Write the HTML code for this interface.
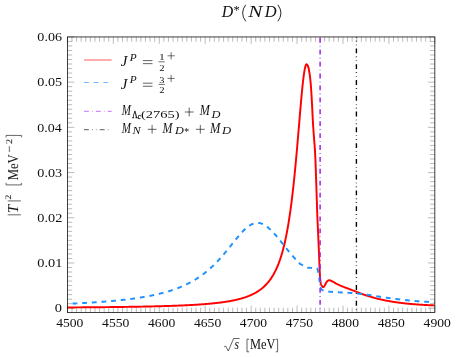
<!DOCTYPE html>
<html><head><meta charset="utf-8"><style>
html,body{margin:0;padding:0;background:#fff;}
svg{display:block;font-family:"Liberation Serif",serif;}
</style></head><body>
<svg width="456" height="357" viewBox="0 0 456 357">
<rect width="456" height="357" fill="#fff"/>
<path d="M71.99,312.5v-4.80M71.99,36.95v4.80M76.59,312.5v-4.80M76.59,36.95v4.80M81.18,312.5v-4.80M81.18,36.95v4.80M85.77,312.5v-4.80M85.77,36.95v4.80M90.37,312.5v-4.80M90.37,36.95v4.80M94.96,312.5v-4.80M94.96,36.95v4.80M99.55,312.5v-4.80M99.55,36.95v4.80M104.15,312.5v-4.80M104.15,36.95v4.80M108.74,312.5v-4.80M108.74,36.95v4.80M117.92,312.5v-4.80M117.92,36.95v4.80M122.52,312.5v-4.80M122.52,36.95v4.80M127.11,312.5v-4.80M127.11,36.95v4.80M131.70,312.5v-4.80M131.70,36.95v4.80M136.30,312.5v-4.80M136.30,36.95v4.80M140.89,312.5v-4.80M140.89,36.95v4.80M145.48,312.5v-4.80M145.48,36.95v4.80M150.08,312.5v-4.80M150.08,36.95v4.80M154.67,312.5v-4.80M154.67,36.95v4.80M163.86,312.5v-4.80M163.86,36.95v4.80M168.45,312.5v-4.80M168.45,36.95v4.80M173.04,312.5v-4.80M173.04,36.95v4.80M177.64,312.5v-4.80M177.64,36.95v4.80M182.23,312.5v-4.80M182.23,36.95v4.80M186.82,312.5v-4.80M186.82,36.95v4.80M191.41,312.5v-4.80M191.41,36.95v4.80M196.01,312.5v-4.80M196.01,36.95v4.80M200.60,312.5v-4.80M200.60,36.95v4.80M209.79,312.5v-4.80M209.79,36.95v4.80M214.38,312.5v-4.80M214.38,36.95v4.80M218.97,312.5v-4.80M218.97,36.95v4.80M223.57,312.5v-4.80M223.57,36.95v4.80M228.16,312.5v-4.80M228.16,36.95v4.80M232.75,312.5v-4.80M232.75,36.95v4.80M237.35,312.5v-4.80M237.35,36.95v4.80M241.94,312.5v-4.80M241.94,36.95v4.80M246.53,312.5v-4.80M246.53,36.95v4.80M255.72,312.5v-4.80M255.72,36.95v4.80M260.31,312.5v-4.80M260.31,36.95v4.80M264.90,312.5v-4.80M264.90,36.95v4.80M269.50,312.5v-4.80M269.50,36.95v4.80M274.09,312.5v-4.80M274.09,36.95v4.80M278.68,312.5v-4.80M278.68,36.95v4.80M283.28,312.5v-4.80M283.28,36.95v4.80M287.87,312.5v-4.80M287.87,36.95v4.80M292.46,312.5v-4.80M292.46,36.95v4.80M301.65,312.5v-4.80M301.65,36.95v4.80M306.24,312.5v-4.80M306.24,36.95v4.80M310.84,312.5v-4.80M310.84,36.95v4.80M315.43,312.5v-4.80M315.43,36.95v4.80M320.02,312.5v-4.80M320.02,36.95v4.80M324.62,312.5v-4.80M324.62,36.95v4.80M329.21,312.5v-4.80M329.21,36.95v4.80M333.80,312.5v-4.80M333.80,36.95v4.80M338.39,312.5v-4.80M338.39,36.95v4.80M347.58,312.5v-4.80M347.58,36.95v4.80M352.17,312.5v-4.80M352.17,36.95v4.80M356.77,312.5v-4.80M356.77,36.95v4.80M361.36,312.5v-4.80M361.36,36.95v4.80M365.95,312.5v-4.80M365.95,36.95v4.80M370.55,312.5v-4.80M370.55,36.95v4.80M375.14,312.5v-4.80M375.14,36.95v4.80M379.73,312.5v-4.80M379.73,36.95v4.80M384.33,312.5v-4.80M384.33,36.95v4.80M393.51,312.5v-4.80M393.51,36.95v4.80M398.11,312.5v-4.80M398.11,36.95v4.80M402.70,312.5v-4.80M402.70,36.95v4.80M407.29,312.5v-4.80M407.29,36.95v4.80M411.88,312.5v-4.80M411.88,36.95v4.80M416.48,312.5v-4.80M416.48,36.95v4.80M421.07,312.5v-4.80M421.07,36.95v4.80M425.66,312.5v-4.80M425.66,36.95v4.80M430.26,312.5v-4.80M430.26,36.95v4.80M67.4,303.68h4.80M434.85,303.68h-4.80M67.4,299.16h4.80M434.85,299.16h-4.80M67.4,294.63h4.80M434.85,294.63h-4.80M67.4,290.11h4.80M434.85,290.11h-4.80M67.4,285.59h4.80M434.85,285.59h-4.80M67.4,281.07h4.80M434.85,281.07h-4.80M67.4,276.55h4.80M434.85,276.55h-4.80M67.4,272.03h4.80M434.85,272.03h-4.80M67.4,267.50h4.80M434.85,267.50h-4.80M67.4,258.46h4.80M434.85,258.46h-4.80M67.4,253.94h4.80M434.85,253.94h-4.80M67.4,249.42h4.80M434.85,249.42h-4.80M67.4,244.90h4.80M434.85,244.90h-4.80M67.4,240.38h4.80M434.85,240.38h-4.80M67.4,235.85h4.80M434.85,235.85h-4.80M67.4,231.33h4.80M434.85,231.33h-4.80M67.4,226.81h4.80M434.85,226.81h-4.80M67.4,222.29h4.80M434.85,222.29h-4.80M67.4,213.24h4.80M434.85,213.24h-4.80M67.4,208.72h4.80M434.85,208.72h-4.80M67.4,204.20h4.80M434.85,204.20h-4.80M67.4,199.68h4.80M434.85,199.68h-4.80M67.4,195.16h4.80M434.85,195.16h-4.80M67.4,190.64h4.80M434.85,190.64h-4.80M67.4,186.11h4.80M434.85,186.11h-4.80M67.4,181.59h4.80M434.85,181.59h-4.80M67.4,177.07h4.80M434.85,177.07h-4.80M67.4,168.03h4.80M434.85,168.03h-4.80M67.4,163.51h4.80M434.85,163.51h-4.80M67.4,158.98h4.80M434.85,158.98h-4.80M67.4,154.46h4.80M434.85,154.46h-4.80M67.4,149.94h4.80M434.85,149.94h-4.80M67.4,145.42h4.80M434.85,145.42h-4.80M67.4,140.90h4.80M434.85,140.90h-4.80M67.4,136.38h4.80M434.85,136.38h-4.80M67.4,131.85h4.80M434.85,131.85h-4.80M67.4,122.81h4.80M434.85,122.81h-4.80M67.4,118.29h4.80M434.85,118.29h-4.80M67.4,113.77h4.80M434.85,113.77h-4.80M67.4,109.25h4.80M434.85,109.25h-4.80M67.4,104.72h4.80M434.85,104.72h-4.80M67.4,100.20h4.80M434.85,100.20h-4.80M67.4,95.68h4.80M434.85,95.68h-4.80M67.4,91.16h4.80M434.85,91.16h-4.80M67.4,86.64h4.80M434.85,86.64h-4.80M67.4,77.59h4.80M434.85,77.59h-4.80M67.4,73.07h4.80M434.85,73.07h-4.80M67.4,68.55h4.80M434.85,68.55h-4.80M67.4,64.03h4.80M434.85,64.03h-4.80M67.4,59.51h4.80M434.85,59.51h-4.80M67.4,54.99h4.80M434.85,54.99h-4.80M67.4,50.46h4.80M434.85,50.46h-4.80M67.4,45.94h4.80M434.85,45.94h-4.80M67.4,41.42h4.80M434.85,41.42h-4.80" stroke="#777" stroke-width="0.5" fill="none"/>
<path d="M67.40,312.5v-6.90M67.40,36.95v6.90M113.33,312.5v-6.90M113.33,36.95v6.90M159.26,312.5v-6.90M159.26,36.95v6.90M205.19,312.5v-6.90M205.19,36.95v6.90M251.13,312.5v-6.90M251.13,36.95v6.90M297.06,312.5v-6.90M297.06,36.95v6.90M342.99,312.5v-6.90M342.99,36.95v6.90M388.92,312.5v-6.90M388.92,36.95v6.90M434.85,312.5v-6.90M434.85,36.95v6.90M67.4,308.20h6.90M434.85,308.20h-6.90M67.4,262.98h6.90M434.85,262.98h-6.90M67.4,217.77h6.90M434.85,217.77h-6.90M67.4,172.55h6.90M434.85,172.55h-6.90M67.4,127.33h6.90M434.85,127.33h-6.90M67.4,82.12h6.90M434.85,82.12h-6.90M67.4,36.90h6.90M434.85,36.90h-6.90" stroke="#777" stroke-width="0.5" fill="none"/>
<clipPath id="c"><rect x="67.4" y="36.95" width="367.45000000000005" height="275.55"/></clipPath>
<g clip-path="url(#c)" fill="none">
<path d="M67.40,307.45 L67.90,307.45 L68.40,307.44 L68.90,307.44 L69.40,307.44 L69.90,307.43 L70.40,307.43 L70.90,307.43 L71.40,307.42 L71.90,307.42 L72.40,307.42 L72.90,307.41 L73.40,307.41 L73.90,307.41 L74.40,307.40 L74.90,307.40 L75.40,307.40 L75.90,307.39 L76.40,307.39 L76.90,307.39 L77.40,307.38 L77.90,307.38 L78.40,307.37 L78.90,307.37 L79.40,307.37 L79.90,307.36 L80.40,307.36 L80.90,307.36 L81.40,307.35 L81.90,307.35 L82.40,307.34 L82.90,307.34 L83.40,307.34 L83.90,307.33 L84.40,307.33 L84.90,307.33 L85.40,307.32 L85.90,307.32 L86.40,307.31 L86.90,307.31 L87.40,307.31 L87.90,307.30 L88.40,307.30 L88.90,307.29 L89.40,307.29 L89.90,307.28 L90.40,307.28 L90.90,307.28 L91.40,307.27 L91.90,307.27 L92.40,307.26 L92.90,307.26 L93.40,307.25 L93.90,307.25 L94.40,307.25 L94.90,307.24 L95.40,307.24 L95.90,307.23 L96.40,307.23 L96.90,307.22 L97.40,307.22 L97.90,307.21 L98.40,307.21 L98.90,307.20 L99.40,307.20 L99.90,307.19 L100.40,307.19 L100.90,307.18 L101.40,307.18 L101.90,307.17 L102.40,307.17 L102.90,307.16 L103.40,307.16 L103.90,307.15 L104.40,307.15 L104.90,307.14 L105.40,307.14 L105.90,307.13 L106.40,307.13 L106.90,307.12 L107.40,307.12 L107.90,307.11 L108.40,307.11 L108.90,307.10 L109.40,307.10 L109.90,307.09 L110.40,307.08 L110.90,307.08 L111.40,307.07 L111.90,307.07 L112.40,307.06 L112.90,307.06 L113.40,307.05 L113.90,307.04 L114.40,307.04 L114.90,307.03 L115.40,307.03 L115.90,307.02 L116.40,307.01 L116.90,307.01 L117.40,307.00 L117.90,306.99 L118.40,306.99 L118.90,306.98 L119.40,306.98 L119.90,306.97 L120.40,306.96 L120.90,306.96 L121.40,306.95 L121.90,306.94 L122.40,306.94 L122.90,306.93 L123.40,306.92 L123.90,306.91 L124.40,306.91 L124.90,306.90 L125.40,306.89 L125.90,306.89 L126.40,306.88 L126.90,306.87 L127.40,306.86 L127.90,306.86 L128.40,306.85 L128.90,306.84 L129.40,306.83 L129.90,306.83 L130.40,306.82 L130.90,306.81 L131.40,306.80 L131.90,306.79 L132.40,306.79 L132.90,306.78 L133.40,306.77 L133.90,306.76 L134.40,306.75 L134.90,306.75 L135.40,306.74 L135.90,306.73 L136.40,306.72 L136.90,306.71 L137.40,306.70 L137.90,306.69 L138.40,306.69 L138.90,306.68 L139.40,306.67 L139.90,306.66 L140.40,306.65 L140.90,306.64 L141.40,306.63 L141.90,306.62 L142.40,306.61 L142.90,306.60 L143.40,306.59 L143.90,306.58 L144.40,306.57 L144.90,306.56 L145.40,306.55 L145.90,306.54 L146.40,306.53 L146.90,306.52 L147.40,306.51 L147.90,306.50 L148.40,306.49 L148.90,306.48 L149.40,306.47 L149.90,306.46 L150.40,306.45 L150.90,306.43 L151.40,306.42 L151.90,306.41 L152.40,306.40 L152.90,306.39 L153.40,306.38 L153.90,306.36 L154.40,306.35 L154.90,306.34 L155.40,306.33 L155.90,306.32 L156.40,306.30 L156.90,306.29 L157.40,306.28 L157.90,306.27 L158.40,306.25 L158.90,306.24 L159.40,306.23 L159.90,306.21 L160.40,306.20 L160.90,306.19 L161.40,306.17 L161.90,306.16 L162.40,306.14 L162.90,306.13 L163.40,306.12 L163.90,306.10 L164.40,306.09 L164.90,306.07 L165.40,306.06 L165.90,306.04 L166.40,306.03 L166.90,306.01 L167.40,305.99 L167.90,305.98 L168.40,305.96 L168.90,305.95 L169.40,305.93 L169.90,305.91 L170.40,305.90 L170.90,305.88 L171.40,305.86 L171.90,305.85 L172.40,305.83 L172.90,305.81 L173.40,305.79 L173.90,305.78 L174.40,305.76 L174.90,305.74 L175.40,305.72 L175.90,305.70 L176.40,305.68 L176.90,305.66 L177.40,305.64 L177.90,305.62 L178.40,305.60 L178.90,305.58 L179.40,305.56 L179.90,305.54 L180.40,305.52 L180.90,305.50 L181.40,305.48 L181.90,305.46 L182.40,305.44 L182.90,305.41 L183.40,305.39 L183.90,305.37 L184.40,305.35 L184.90,305.32 L185.40,305.30 L185.90,305.28 L186.40,305.25 L186.90,305.23 L187.40,305.20 L187.90,305.18 L188.40,305.15 L188.90,305.13 L189.40,305.10 L189.90,305.08 L190.40,305.05 L190.90,305.02 L191.40,304.99 L191.90,304.97 L192.40,304.94 L192.90,304.91 L193.40,304.88 L193.90,304.85 L194.40,304.82 L194.90,304.79 L195.40,304.76 L195.90,304.73 L196.40,304.70 L196.90,304.67 L197.40,304.64 L197.90,304.61 L198.40,304.57 L198.90,304.54 L199.40,304.51 L199.90,304.47 L200.40,304.44 L200.90,304.40 L201.40,304.37 L201.90,304.33 L202.40,304.29 L202.90,304.26 L203.40,304.22 L203.90,304.18 L204.40,304.14 L204.90,304.10 L205.40,304.06 L205.90,304.02 L206.40,303.98 L206.90,303.94 L207.40,303.90 L207.90,303.86 L208.40,303.81 L208.90,303.77 L209.40,303.72 L209.90,303.68 L210.40,303.63 L210.90,303.58 L211.40,303.54 L211.90,303.49 L212.40,303.44 L212.90,303.39 L213.40,303.34 L213.90,303.29 L214.40,303.23 L214.90,303.18 L215.40,303.13 L215.90,303.07 L216.40,303.02 L216.90,302.96 L217.40,302.90 L217.90,302.84 L218.40,302.78 L218.90,302.72 L219.40,302.66 L219.90,302.60 L220.40,302.54 L220.90,302.47 L221.40,302.41 L221.90,302.34 L222.40,302.27 L222.90,302.20 L223.40,302.13 L223.90,302.06 L224.40,301.99 L224.90,301.91 L225.40,301.84 L225.90,301.76 L226.40,301.68 L226.90,301.60 L227.40,301.52 L227.90,301.44 L228.40,301.35 L228.90,301.27 L229.40,301.18 L229.90,301.09 L230.40,301.00 L230.90,300.91 L231.40,300.82 L231.90,300.72 L232.40,300.62 L232.90,300.52 L233.40,300.42 L233.90,300.32 L234.40,300.21 L234.90,300.10 L235.40,299.99 L235.90,299.88 L236.40,299.76 L236.90,299.65 L237.40,299.53 L237.90,299.41 L238.40,299.28 L238.90,299.15 L239.40,299.03 L239.90,298.89 L240.40,298.76 L240.90,298.62 L241.40,298.48 L241.90,298.33 L242.40,298.18 L242.90,298.03 L243.40,297.88 L243.90,297.72 L244.40,297.56 L244.90,297.39 L245.40,297.23 L245.90,297.05 L246.40,296.88 L246.90,296.69 L247.40,296.51 L247.90,296.32 L248.40,296.12 L248.90,295.93 L249.40,295.72 L249.90,295.51 L250.40,295.30 L250.90,295.08 L251.40,294.85 L251.90,294.62 L252.40,294.38 L252.90,294.14 L253.40,293.89 L253.90,293.64 L254.40,293.37 L254.90,293.10 L255.40,292.83 L255.90,292.54 L256.40,292.25 L256.90,291.95 L257.40,291.64 L257.90,291.32 L258.40,291.00 L258.90,290.66 L259.40,290.31 L259.90,289.96 L260.40,289.59 L260.90,289.22 L261.40,288.83 L261.90,288.43 L262.40,288.02 L262.90,287.59 L263.40,287.16 L263.90,286.70 L264.40,286.24 L264.90,285.76 L265.40,285.26 L265.90,284.75 L266.40,284.22 L266.90,283.68 L267.40,283.12 L267.90,282.53 L268.40,281.93 L268.90,281.31 L269.40,280.67 L269.90,280.00 L270.40,279.31 L270.90,278.60 L271.40,277.86 L271.90,277.09 L272.40,276.30 L272.90,275.47 L273.40,274.62 L273.90,273.73 L274.40,272.81 L274.90,271.86 L275.40,270.87 L275.90,269.84 L276.40,268.77 L276.90,267.65 L277.40,266.50 L277.90,265.29 L278.40,264.04 L278.90,262.74 L279.40,261.38 L279.90,259.96 L280.40,258.49 L280.90,256.95 L281.40,255.35 L281.90,253.68 L282.40,251.93 L282.90,250.11 L283.40,248.21 L283.90,246.23 L284.40,244.15 L284.90,241.99 L285.40,239.73 L285.90,237.36 L286.40,234.89 L286.90,232.31 L287.40,229.60 L287.90,226.78 L288.40,223.83 L288.90,220.75 L289.40,217.52 L289.90,214.16 L290.40,210.64 L290.90,206.97 L291.40,203.14 L291.90,199.14 L292.40,194.98 L292.90,190.65 L293.40,186.15 L293.90,181.48 L294.40,176.63 L294.90,171.61 L295.40,166.43 L295.90,161.10 L296.40,155.61 L296.90,150.00 L297.40,144.26 L297.90,138.43 L298.40,132.52 L298.90,126.57 L299.40,120.61 L299.90,114.69 L300.40,108.83 L300.90,103.10 L301.40,97.55 L301.90,92.23 L302.40,87.20 L302.90,82.52 L303.40,78.26 L303.90,74.46 L304.40,71.19 L304.90,68.49 L305.40,66.41 L305.90,64.98 L306.40,64.22 L307.06,64.57 L307.39,65.04 L307.68,65.53 L307.92,66.04 L308.11,66.57 L308.29,67.11 L308.44,67.66 L308.59,68.22 L308.72,68.79 L308.84,69.36 L308.95,69.92 L309.05,70.48 L309.15,71.05 L309.25,71.61 L309.34,72.17 L309.43,72.74 L309.52,73.30 L309.60,73.87 L309.68,74.44 L309.76,75.01 L309.84,75.58 L309.91,76.15 L309.98,76.72 L310.05,77.29 L310.12,77.86 L310.18,78.43 L310.25,79.00 L310.31,79.57 L310.37,80.14 L310.43,80.72 L310.48,81.29 L310.54,81.86 L310.59,82.43 L310.65,83.00 L310.70,83.57 L310.75,84.14 L310.80,84.71 L310.84,85.28 L310.89,85.85 L310.93,86.43 L310.98,87.00 L311.02,87.57 L311.06,88.14 L311.10,88.71 L311.14,89.29 L311.18,89.86 L311.21,90.43 L311.25,91.00 L311.29,91.58 L311.32,92.15 L311.36,92.72 L311.39,93.29 L311.43,93.87 L311.47,94.44 L311.50,95.01 L311.54,95.58 L311.57,96.15 L311.60,96.73 L311.64,97.30 L311.67,97.87 L311.70,98.44 L311.74,99.02 L311.77,99.59 L311.80,100.16 L311.83,100.73 L311.86,101.31 L311.89,101.88 L311.92,102.45 L311.95,103.02 L311.98,103.60 L312.01,104.17 L312.04,104.74 L312.07,105.31 L312.10,105.89 L312.13,106.46 L312.16,107.03 L312.19,107.61 L312.21,108.18 L312.24,108.75 L312.27,109.32 L312.30,109.90 L312.33,110.47 L312.36,111.04 L312.38,111.61 L312.41,112.19 L312.44,112.76 L312.47,113.33 L312.50,113.90 L312.53,114.48 L312.56,115.05 L312.59,115.62 L312.61,116.20 L312.64,116.77 L312.67,117.34 L312.70,117.91 L312.73,118.49 L312.76,119.06 L312.79,119.63 L312.83,120.20 L312.86,120.78 L312.89,121.35 L312.92,121.92 L312.95,122.49 L312.99,123.07 L313.02,123.64 L313.05,124.21 L313.09,124.78 L313.12,125.35 L313.16,125.93 L313.19,126.50 L313.23,127.07 L313.27,127.64 L313.31,128.22 L313.35,128.79 L313.39,129.36 L313.43,129.93 L313.47,130.50 L313.51,131.08 L313.55,131.65 L313.59,132.22 L313.64,132.79 L313.68,133.36 L313.72,133.93 L313.77,134.51 L313.81,135.08 L313.86,135.65 L313.90,136.22 L313.95,136.79 L313.99,137.36 L314.04,137.94 L314.08,138.51 L314.12,139.08 L314.17,139.65 L314.21,140.22 L314.26,140.80 L314.30,141.37 L314.35,141.94 L314.39,142.51 L314.43,143.08 L314.48,143.65 L314.52,144.23 L314.56,144.80 L314.60,145.37 L314.64,145.94 L314.69,146.51 L314.73,147.09 L314.76,147.66 L314.80,148.23 L314.84,148.80 L314.88,149.37 L314.92,149.95 L314.95,150.52 L314.99,151.09 L315.02,151.66 L315.05,152.23 L315.09,152.81 L315.12,153.38 L315.15,153.95 L315.18,154.52 L315.20,155.10 L315.23,155.67 L315.26,156.24 L315.29,156.81 L315.31,157.39 L315.34,157.96 L315.36,158.53 L315.39,159.10 L315.41,159.68 L315.43,160.25 L315.46,160.82 L315.48,161.40 L315.50,161.97 L315.53,162.54 L315.55,163.11 L315.57,163.69 L315.59,164.26 L315.62,164.83 L315.64,165.41 L315.66,165.98 L315.68,166.55 L315.70,167.12 L315.72,167.70 L315.74,168.27 L315.76,168.84 L315.78,169.42 L315.80,169.99 L315.82,170.56 L315.84,171.14 L315.86,171.71 L315.88,172.28 L315.90,172.86 L315.91,173.43 L315.93,174.00 L315.95,174.57 L315.97,175.15 L315.99,175.72 L316.01,176.29 L316.03,176.87 L316.05,177.44 L316.07,178.01 L316.08,178.59 L316.10,179.16 L316.12,179.73 L316.14,180.31 L316.16,180.88 L316.18,181.45 L316.20,182.03 L316.22,182.60 L316.24,183.17 L316.26,183.74 L316.28,184.32 L316.30,184.89 L316.32,185.46 L316.34,186.04 L316.36,186.61 L316.37,187.18 L316.39,187.76 L316.41,188.33 L316.43,188.90 L316.45,189.47 L316.47,190.05 L316.49,190.62 L316.51,191.19 L316.53,191.77 L316.54,192.34 L316.56,192.91 L316.58,193.49 L316.60,194.06 L316.62,194.63 L316.63,195.21 L316.65,195.78 L316.67,196.35 L316.69,196.92 L316.71,197.50 L316.73,198.07 L316.74,198.64 L316.76,199.22 L316.78,199.79 L316.80,200.36 L316.82,200.94 L316.83,201.51 L316.85,202.08 L316.87,202.66 L316.89,203.23 L316.91,203.80 L316.93,204.37 L316.94,204.95 L316.96,205.52 L316.98,206.09 L317.00,206.67 L317.02,207.24 L317.04,207.81 L317.06,208.39 L317.08,208.96 L317.10,209.53 L317.12,210.10 L317.14,210.68 L317.16,211.25 L317.18,211.82 L317.20,212.40 L317.22,212.97 L317.24,213.54 L317.27,214.12 L317.29,214.69 L317.31,215.26 L317.33,215.83 L317.36,216.41 L317.38,216.98 L317.40,217.55 L317.43,218.13 L317.45,218.70 L317.48,219.27 L317.50,219.84 L317.53,220.42 L317.55,220.99 L317.58,221.56 L317.60,222.14 L317.63,222.71 L317.66,223.28 L317.68,223.85 L317.71,224.43 L317.74,225.00 L317.76,225.57 L317.79,226.14 L317.82,226.72 L317.84,227.29 L317.87,227.86 L317.90,228.44 L317.93,229.01 L317.95,229.58 L317.98,230.15 L318.01,230.73 L318.03,231.30 L318.06,231.87 L318.09,232.44 L318.11,233.02 L318.14,233.59 L318.16,234.16 L318.19,234.74 L318.21,235.31 L318.24,235.88 L318.26,236.45 L318.29,237.03 L318.31,237.60 L318.34,238.17 L318.36,238.75 L318.39,239.32 L318.41,239.89 L318.44,240.46 L318.46,241.04 L318.49,241.61 L318.51,242.18 L318.54,242.75 L318.56,243.33 L318.59,243.90 L318.61,244.47 L318.64,245.05 L318.66,245.62 L318.68,246.19 L318.71,246.76 L318.73,247.34 L318.76,247.91 L318.78,248.48 L318.81,249.06 L318.83,249.63 L318.85,250.20 L318.88,250.77 L318.90,251.35 L318.93,251.92 L318.95,252.49 L318.98,253.07 L319.00,253.64 L319.02,254.21 L319.05,254.78 L319.07,255.36 L319.10,255.93 L319.12,256.50 L319.14,257.08 L319.17,257.65 L319.19,258.22 L319.21,258.79 L319.23,259.37 L319.25,259.94 L319.28,260.51 L319.30,261.09 L319.32,261.66 L319.34,262.23 L319.36,262.81 L319.38,263.38 L319.40,263.95 L319.42,264.53 L319.44,265.10 L319.47,265.67 L319.49,266.25 L319.51,266.82 L319.54,267.39 L319.56,267.96 L319.58,268.54 L319.61,269.11 L319.64,269.68 L319.66,270.25 L319.69,270.83 L319.72,271.40 L319.75,271.97 L319.79,272.54 L319.82,273.12 L319.85,273.69 L319.89,274.26 L319.92,274.84 L319.96,275.41 L320.00,275.99 L320.04,276.56 L320.08,277.13 L320.13,277.71 L320.18,278.28 L320.23,278.85 L320.29,279.42 L320.35,279.99 L320.42,280.55 L320.49,281.12 L320.57,281.68 L320.67,282.26 L320.79,282.85 L320.92,283.42 L321.07,283.99 L321.25,284.53 L321.45,285.05 L321.67,285.54 L322.00,286.08 L322.41,286.61 L322.86,286.99 L323.29,287.09 L323.73,286.80 L324.16,286.31 L324.52,285.84 L324.81,285.35 L325.08,284.83 L325.35,284.32 L325.61,283.81 L325.88,283.30 L326.16,282.80 L326.46,282.31 L326.78,281.83 L327.14,281.37 L327.53,280.97 L328.00,280.62 L328.52,280.40 L329.09,280.31 L329.66,280.32 L330.22,280.47 L330.76,280.66 L331.28,280.91 L331.78,281.19 L332.30,281.45 L332.81,281.70 L333.32,281.96 L333.83,282.22 L334.33,282.51 L334.82,282.80 L335.32,283.09 L335.81,283.38 L336.32,283.66 L336.82,283.92 L337.34,284.17 L337.85,284.42 L338.37,284.66 L338.90,284.90 L339.42,285.14 L339.94,285.37 L340.47,285.61 L340.99,285.83 L341.52,286.06 L342.05,286.28 L342.58,286.49 L343.11,286.71 L343.65,286.92 L344.18,287.12 L344.72,287.32 L345.26,287.53 L345.79,287.72 L346.33,287.92 L346.87,288.12 L347.41,288.31 L347.95,288.51 L348.49,288.71 L349.02,288.91 L349.56,289.11 L350.10,289.31 L350.63,289.52 L351.17,289.72 L351.70,289.93 L352.24,290.13 L352.77,290.34 L353.31,290.54 L353.84,290.75 L354.38,290.96 L354.91,291.17 L355.45,291.38 L355.98,291.59 L356.51,291.81 L357.04,292.03 L357.57,292.25 L358.10,292.47 L358.63,292.69 L359.16,292.91 L359.69,293.12 L360.23,293.32 L360.76,293.52 L361.30,293.72 L361.84,293.91 L362.38,294.10 L362.92,294.30 L363.46,294.48 L364.01,294.67 L364.55,294.86 L365.09,295.04 L365.64,295.22 L366.18,295.40 L366.73,295.57 L367.27,295.75 L367.82,295.92 L368.37,296.09 L368.92,296.26 L369.46,296.43 L370.01,296.59 L370.56,296.76 L371.11,296.92 L371.66,297.08 L372.21,297.24 L372.76,297.40 L373.31,297.56 L373.87,297.72 L374.42,297.87 L374.97,298.02 L375.53,298.17 L376.08,298.32 L376.64,298.47 L377.19,298.61 L377.75,298.75 L378.30,298.89 L378.86,299.03 L379.42,299.16 L379.98,299.29 L380.53,299.41 L381.09,299.54 L381.65,299.66 L382.21,299.78 L382.77,299.90 L383.34,300.02 L383.90,300.14 L384.46,300.25 L385.02,300.37 L385.58,300.48 L386.15,300.59 L386.71,300.69 L387.28,300.80 L387.84,300.90 L388.40,301.01 L388.97,301.11 L389.53,301.21 L390.10,301.30 L390.66,301.40 L391.23,301.50 L391.79,301.59 L392.36,301.68 L392.92,301.77 L393.49,301.86 L394.06,301.95 L394.63,302.04 L395.19,302.13 L395.76,302.21 L396.33,302.29 L396.89,302.37 L397.46,302.45 L398.03,302.53 L398.60,302.61 L399.17,302.68 L399.74,302.76 L400.30,302.83 L400.87,302.90 L401.44,302.97 L402.01,303.04 L402.58,303.10 L403.15,303.17 L403.72,303.23 L404.29,303.30 L404.86,303.36 L405.43,303.42 L406.00,303.48 L406.57,303.54 L407.14,303.60 L407.71,303.66 L408.28,303.71 L408.85,303.77 L409.42,303.82 L410.00,303.87 L410.57,303.93 L411.14,303.98 L411.71,304.03 L412.28,304.08 L412.85,304.13 L413.42,304.18 L413.99,304.22 L414.57,304.27 L415.14,304.32 L415.71,304.36 L416.28,304.40 L416.85,304.45 L417.42,304.49 L418.00,304.53 L418.57,304.57 L419.14,304.60 L419.71,304.64 L420.28,304.68 L420.86,304.71 L421.43,304.75 L422.00,304.78 L422.57,304.82 L423.14,304.85 L423.72,304.88 L424.29,304.92 L424.86,304.95 L425.43,304.98 L426.01,305.01 L426.58,305.04 L427.15,305.07 L427.72,305.10 L428.30,305.13 L428.87,305.16 L429.44,305.19 L430.02,305.22 L430.59,305.24 L431.16,305.27 L431.73,305.29 L432.31,305.31 L432.88,305.34 L433.45,305.36 L434.03,305.38 L434.60,305.40" stroke="#ff0000" stroke-width="1.95" stroke-linejoin="round"/>
<path d="M67.40,303.83 L67.90,303.80 L68.40,303.78 L68.90,303.76 L69.40,303.74 L69.90,303.71 L70.40,303.69 L70.90,303.67 L71.40,303.65 L71.90,303.62 L72.40,303.60 L72.90,303.57 L73.40,303.55 L73.90,303.53 L74.40,303.50 L74.90,303.48 L75.40,303.45 L75.90,303.43 L76.40,303.40 L76.90,303.38 L77.40,303.35 L77.90,303.33 L78.40,303.30 L78.90,303.28 L79.40,303.25 L79.90,303.22 L80.40,303.20 L80.90,303.17 L81.40,303.14 L81.90,303.12 L82.40,303.09 L82.90,303.06 L83.40,303.04 L83.90,303.01 L84.40,302.98 L84.90,302.95 L85.40,302.92 L85.90,302.89 L86.40,302.86 L86.90,302.83 L87.40,302.80 L87.90,302.77 L88.40,302.74 L88.90,302.71 L89.40,302.68 L89.90,302.65 L90.40,302.62 L90.90,302.59 L91.40,302.56 L91.90,302.53 L92.40,302.50 L92.90,302.46 L93.40,302.43 L93.90,302.40 L94.40,302.36 L94.90,302.33 L95.40,302.30 L95.90,302.26 L96.40,302.23 L96.90,302.19 L97.40,302.16 L97.90,302.12 L98.40,302.09 L98.90,302.05 L99.40,302.02 L99.90,301.98 L100.40,301.94 L100.90,301.91 L101.40,301.87 L101.90,301.83 L102.40,301.79 L102.90,301.75 L103.40,301.72 L103.90,301.68 L104.40,301.64 L104.90,301.60 L105.40,301.56 L105.90,301.52 L106.40,301.48 L106.90,301.44 L107.40,301.39 L107.90,301.35 L108.40,301.31 L108.90,301.27 L109.40,301.22 L109.90,301.18 L110.40,301.14 L110.90,301.09 L111.40,301.05 L111.90,301.00 L112.40,300.96 L112.90,300.91 L113.40,300.86 L113.90,300.82 L114.40,300.77 L114.90,300.72 L115.40,300.68 L115.90,300.63 L116.40,300.58 L116.90,300.53 L117.40,300.48 L117.90,300.43 L118.40,300.38 L118.90,300.33 L119.40,300.27 L119.90,300.22 L120.40,300.17 L120.90,300.12 L121.40,300.06 L121.90,300.01 L122.40,299.95 L122.90,299.90 L123.40,299.84 L123.90,299.78 L124.40,299.73 L124.90,299.67 L125.40,299.61 L125.90,299.55 L126.40,299.49 L126.90,299.43 L127.40,299.37 L127.90,299.31 L128.40,299.25 L128.90,299.19 L129.40,299.13 L129.90,299.06 L130.40,299.00 L130.90,298.93 L131.40,298.87 L131.90,298.80 L132.40,298.73 L132.90,298.67 L133.40,298.60 L133.90,298.53 L134.40,298.46 L134.90,298.39 L135.40,298.32 L135.90,298.25 L136.40,298.17 L136.90,298.10 L137.40,298.02 L137.90,297.95 L138.40,297.87 L138.90,297.80 L139.40,297.72 L139.90,297.64 L140.40,297.56 L140.90,297.48 L141.40,297.40 L141.90,297.32 L142.40,297.24 L142.90,297.15 L143.40,297.07 L143.90,296.98 L144.40,296.90 L144.90,296.81 L145.40,296.72 L145.90,296.63 L146.40,296.54 L146.90,296.45 L147.40,296.36 L147.90,296.27 L148.40,296.17 L148.90,296.08 L149.40,295.98 L149.90,295.88 L150.40,295.79 L150.90,295.69 L151.40,295.59 L151.90,295.48 L152.40,295.38 L152.90,295.28 L153.40,295.17 L153.90,295.06 L154.40,294.96 L154.90,294.85 L155.40,294.74 L155.90,294.63 L156.40,294.51 L156.90,294.40 L157.40,294.28 L157.90,294.17 L158.40,294.05 L158.90,293.93 L159.40,293.81 L159.90,293.68 L160.40,293.56 L160.90,293.43 L161.40,293.31 L161.90,293.18 L162.40,293.05 L162.90,292.92 L163.40,292.78 L163.90,292.65 L164.40,292.51 L164.90,292.37 L165.40,292.23 L165.90,292.09 L166.40,291.95 L166.90,291.80 L167.40,291.65 L167.90,291.51 L168.40,291.35 L168.90,291.20 L169.40,291.05 L169.90,290.89 L170.40,290.73 L170.90,290.57 L171.40,290.41 L171.90,290.24 L172.40,290.08 L172.90,289.91 L173.40,289.74 L173.90,289.56 L174.40,289.39 L174.90,289.21 L175.40,289.03 L175.90,288.85 L176.40,288.67 L176.90,288.48 L177.40,288.29 L177.90,288.10 L178.40,287.90 L178.90,287.71 L179.40,287.51 L179.90,287.31 L180.40,287.10 L180.90,286.89 L181.40,286.68 L181.90,286.47 L182.40,286.25 L182.90,286.04 L183.40,285.81 L183.90,285.59 L184.40,285.36 L184.90,285.13 L185.40,284.90 L185.90,284.66 L186.40,284.42 L186.90,284.18 L187.40,283.93 L187.90,283.69 L188.40,283.43 L188.90,283.18 L189.40,282.92 L189.90,282.65 L190.40,282.39 L190.90,282.12 L191.40,281.84 L191.90,281.57 L192.40,281.29 L192.90,281.00 L193.40,280.71 L193.90,280.42 L194.40,280.12 L194.90,279.82 L195.40,279.52 L195.90,279.21 L196.40,278.90 L196.90,278.58 L197.40,278.26 L197.90,277.93 L198.40,277.60 L198.90,277.27 L199.40,276.93 L199.90,276.59 L200.40,276.24 L200.90,275.89 L201.40,275.53 L201.90,275.17 L202.40,274.80 L202.90,274.43 L203.40,274.05 L203.90,273.67 L204.40,273.29 L204.90,272.90 L205.40,272.50 L205.90,272.10 L206.40,271.69 L206.90,271.28 L207.40,270.87 L207.90,270.44 L208.40,270.02 L208.90,269.59 L209.40,269.15 L209.90,268.70 L210.40,268.26 L210.90,267.80 L211.40,267.34 L211.90,266.88 L212.40,266.41 L212.90,265.93 L213.40,265.45 L213.90,264.97 L214.40,264.48 L214.90,263.98 L215.40,263.48 L215.90,262.97 L216.40,262.45 L216.90,261.94 L217.40,261.41 L217.90,260.88 L218.40,260.35 L218.90,259.81 L219.40,259.26 L219.90,258.71 L220.40,258.16 L220.90,257.60 L221.40,257.03 L221.90,256.46 L222.40,255.89 L222.90,255.31 L223.40,254.73 L223.90,254.14 L224.40,253.55 L224.90,252.95 L225.40,252.35 L225.90,251.75 L226.40,251.15 L226.90,250.54 L227.40,249.93 L227.90,249.31 L228.40,248.69 L228.90,248.07 L229.40,247.45 L229.90,246.83 L230.40,246.21 L230.90,245.58 L231.40,244.95 L231.90,244.33 L232.40,243.70 L232.90,243.07 L233.40,242.45 L233.90,241.82 L234.40,241.20 L234.90,240.58 L235.40,239.96 L235.90,239.34 L236.40,238.73 L236.90,238.12 L237.40,237.52 L237.90,236.92 L238.40,236.32 L238.90,235.73 L239.40,235.15 L239.90,234.57 L240.40,234.01 L240.90,233.44 L241.40,232.89 L241.90,232.35 L242.40,231.81 L242.90,231.29 L243.40,230.78 L243.90,230.28 L244.40,229.79 L244.90,229.31 L245.40,228.85 L245.90,228.40 L246.40,227.96 L246.90,227.54 L247.40,227.13 L247.90,226.74 L248.40,226.37 L248.90,226.01 L249.40,225.67 L249.90,225.35 L250.40,225.05 L250.90,224.76 L251.40,224.49 L251.90,224.25 L252.40,224.02 L252.90,223.81 L253.40,223.63 L253.90,223.46 L254.40,223.32 L254.90,223.19 L255.40,223.09 L255.90,223.01 L256.40,222.95 L256.90,222.92 L257.40,222.90 L257.90,222.91 L258.40,222.94 L258.90,222.99 L259.40,223.06 L259.90,223.15 L260.40,223.27 L260.90,223.40 L261.40,223.56 L261.90,223.74 L262.40,223.94 L262.90,224.15 L263.40,224.39 L263.90,224.65 L264.40,224.93 L264.90,225.23 L265.40,225.54 L265.90,225.87 L266.40,226.22 L266.90,226.59 L267.40,226.97 L267.90,227.37 L268.40,227.79 L268.90,228.22 L269.40,228.67 L269.90,229.12 L270.40,229.60 L270.90,230.08 L271.40,230.58 L271.90,231.09 L272.40,231.60 L272.90,232.13 L273.40,232.67 L273.90,233.22 L274.40,233.78 L274.90,234.35 L275.40,234.92 L275.90,235.50 L276.40,236.09 L276.90,236.68 L277.40,237.28 L277.90,237.88 L278.40,238.49 L278.90,239.10 L279.40,239.71 L279.90,240.33 L280.40,240.95 L280.90,241.57 L281.40,242.20 L281.90,242.82 L282.40,243.45 L282.90,244.08 L283.40,244.70 L283.90,245.33 L284.40,245.95 L284.90,246.58 L285.40,247.20 L285.90,247.83 L286.40,248.45 L286.90,249.06 L287.40,249.68 L287.90,250.29 L288.40,250.90 L288.90,251.51 L289.40,252.11 L289.90,252.71 L290.40,253.31 L290.90,253.90 L291.40,254.49 L291.90,255.08 L292.40,255.66 L292.90,256.23 L293.40,256.81 L293.90,257.37 L294.40,257.93 L294.90,258.49 L295.40,259.04 L295.90,259.59 L296.40,260.13 L296.90,260.67 L297.40,261.20 L297.90,261.73 L298.40,262.25 L298.90,262.76 L299.40,263.27 L299.90,263.78 L300.28,264.01 L300.56,264.15 L300.83,264.28 L301.11,264.42 L301.38,264.57 L301.65,264.71 L301.92,264.86 L302.19,265.01 L302.45,265.16 L302.72,265.33 L302.98,265.49 L303.24,265.66 L303.50,265.82 L303.76,265.98 L304.03,266.14 L304.29,266.29 L304.57,266.43 L304.84,266.57 L305.12,266.71 L305.40,266.85 L305.68,266.98 L305.96,267.10 L306.25,267.21 L306.53,267.31 L306.83,267.41 L307.12,267.51 L307.42,267.61 L307.72,267.69 L308.02,267.76 L308.32,267.80 L308.62,267.81 L308.93,267.82 L309.23,267.83 L309.54,267.84 L309.85,267.85 L310.15,267.85 L310.46,267.86 L310.77,267.86 L311.08,267.87 L311.39,267.87 L311.70,267.88 L312.01,267.88 L312.32,267.89 L312.63,267.89 L312.94,267.90 L313.25,267.91 L313.56,267.91 L313.87,267.92 L314.18,267.93 L314.49,267.93 L314.80,267.94 L315.11,267.95 L315.41,267.97 L315.72,267.98 L316.02,268.00 L316.34,268.06 L316.65,268.17 L316.89,268.30 L317.07,268.46 L317.23,268.69 L317.37,268.96 L317.49,269.26 L317.60,269.58 L317.70,269.91 L317.80,270.24 L317.89,270.55 L317.97,270.84 L318.05,271.14 L318.12,271.43 L318.19,271.73 L318.26,272.03 L318.33,272.33 L318.39,272.63 L318.45,272.93 L318.51,273.24 L318.56,273.54 L318.62,273.85 L318.67,274.15 L318.72,274.46 L318.77,274.76 L318.82,275.07 L318.87,275.38 L318.92,275.68 L318.97,275.99 L319.01,276.29 L319.06,276.59 L319.11,276.90 L319.15,277.20 L319.19,277.51 L319.23,277.81 L319.27,278.12 L319.31,278.43 L319.35,278.73 L319.39,279.04 L319.42,279.35 L319.46,279.65 L319.49,279.96 L319.53,280.27 L319.56,280.57 L319.60,280.88 L319.64,281.19 L319.67,281.49 L319.71,281.80 L319.75,282.10 L319.79,282.41 L319.83,282.71 L319.87,283.02 L319.91,283.32 L319.95,283.63 L320.00,283.93 L320.05,284.23 L320.10,284.54 L320.15,284.84 L320.21,285.14 L320.27,285.44 L320.33,285.75 L320.39,286.05 L320.46,286.35 L320.53,286.66 L320.61,286.96 L320.69,287.26 L320.78,287.55 L320.87,287.84 L320.97,288.13 L321.08,288.41 L321.21,288.71 L321.35,289.00 L321.51,289.27 L321.69,289.52 L321.88,289.73 L322.10,289.91 L322.35,290.08 L322.63,290.23 L322.93,290.37 L323.22,290.50 L323.51,290.60 L323.80,290.70 L324.09,290.79 L324.38,290.88 L324.68,290.96 L324.98,291.04 L325.28,291.11 L325.59,291.17 L325.89,291.23 L326.20,291.29 L326.50,291.34 L326.81,291.39 L327.11,291.43 L327.41,291.47 L327.72,291.50 L328.02,291.54 L328.33,291.57 L328.64,291.61 L328.94,291.64 L329.25,291.67 L329.55,291.69 L329.86,291.72 L330.17,291.75 L330.48,291.77 L330.79,291.80 L331.09,291.82 L331.40,291.84 L331.71,291.86 L332.02,291.89 L332.33,291.91 L332.63,291.93 L332.94,291.95 L333.25,291.97 L333.56,292.00 L333.86,292.02 L334.17,292.04 L334.48,292.06 L334.78,292.08 L335.09,292.10 L335.40,292.13 L335.71,292.15 L336.01,292.16 L336.32,292.18 L336.63,292.20 L336.94,292.22 L337.24,292.24 L337.55,292.26 L337.86,292.28 L338.17,292.30 L338.47,292.31 L338.78,292.33 L339.09,292.35 L339.39,292.37 L339.70,292.38 L340.01,292.40 L340.32,292.42 L340.62,292.43 L340.93,292.45 L341.24,292.47 L341.55,292.48 L341.86,292.50 L342.16,292.51 L342.47,292.53 L342.78,292.54 L343.09,292.55 L343.39,292.57 L343.70,292.58 L344.01,292.60 L344.32,292.61 L344.62,292.62 L344.93,292.64 L345.24,292.65 L345.55,292.66 L345.86,292.68 L346.16,292.69 L346.47,292.71 L346.78,292.72 L347.09,292.74 L347.39,292.75 L347.70,292.77 L348.01,292.78 L348.32,292.80 L348.62,292.82 L348.93,292.83 L349.24,292.85 L349.55,292.87 L349.85,292.89 L350.16,292.91 L350.47,292.93 L350.77,292.95 L351.08,292.97 L351.39,293.00 L351.70,293.02 L352.00,293.04 L352.31,293.07 L352.62,293.09 L352.92,293.12 L353.23,293.14 L353.54,293.17 L353.84,293.20 L354.15,293.22 L354.46,293.25 L354.76,293.28 L355.07,293.31 L355.38,293.34 L355.68,293.37 L355.99,293.40 L356.30,293.43 L356.60,293.46 L356.91,293.49 L357.22,293.52 L357.52,293.55 L357.83,293.58 L358.14,293.61 L358.44,293.64 L358.75,293.68 L359.06,293.71 L359.36,293.74 L359.67,293.77 L359.97,293.81 L360.28,293.84 L360.59,293.88 L360.89,293.91 L361.20,293.95 L361.50,293.98 L361.81,294.02 L362.11,294.06 L362.42,294.09 L362.73,294.13 L363.03,294.17 L363.34,294.21 L363.64,294.25 L363.95,294.29 L364.25,294.33 L364.56,294.37 L364.86,294.41 L365.17,294.45 L365.47,294.50 L365.78,294.54 L366.08,294.58 L366.39,294.62 L366.69,294.67 L367.00,294.71 L367.30,294.75 L367.61,294.80 L367.91,294.84 L368.22,294.88 L368.52,294.93 L368.83,294.97 L369.13,295.02 L369.44,295.06 L369.74,295.11 L370.05,295.15 L370.35,295.20 L370.66,295.24 L370.96,295.29 L371.26,295.34 L371.57,295.39 L371.87,295.43 L372.18,295.48 L372.48,295.53 L372.79,295.58 L373.09,295.63 L373.39,295.68 L373.70,295.73 L374.00,295.78 L374.30,295.84 L374.61,295.89 L374.91,295.94 L375.22,295.99 L375.52,296.04 L375.82,296.09 L376.13,296.14 L376.43,296.19 L376.73,296.24 L377.04,296.29 L377.34,296.34 L377.65,296.39 L377.95,296.44 L378.25,296.49 L378.56,296.54 L378.86,296.59 L379.17,296.63 L379.47,296.68 L379.78,296.73 L380.08,296.77 L380.38,296.82 L380.69,296.86 L380.99,296.91 L381.30,296.95 L381.60,297.00 L381.91,297.04 L382.21,297.09 L382.52,297.13 L382.82,297.17 L383.13,297.22 L383.43,297.26 L383.74,297.30 L384.04,297.35 L384.35,297.39 L384.65,297.43 L384.96,297.47 L385.26,297.52 L385.57,297.56 L385.87,297.60 L386.18,297.64 L386.48,297.69 L386.79,297.73 L387.09,297.77 L387.40,297.81 L387.70,297.85 L388.01,297.90 L388.31,297.94 L388.62,297.98 L388.92,298.02 L389.23,298.06 L389.53,298.10 L389.84,298.15 L390.14,298.19 L390.45,298.23 L390.75,298.27 L391.06,298.31 L391.36,298.36 L391.67,298.40 L391.97,298.44 L392.28,298.48 L392.59,298.52 L392.89,298.56 L393.20,298.61 L393.50,298.65 L393.81,298.69 L394.11,298.73 L394.42,298.77 L394.72,298.81 L395.03,298.85 L395.33,298.89 L395.64,298.93 L395.94,298.97 L396.25,299.01 L396.55,299.05 L396.86,299.09 L397.16,299.13 L397.47,299.17 L397.78,299.21 L398.08,299.25 L398.39,299.29 L398.69,299.33 L399.00,299.36 L399.30,299.40 L399.61,299.44 L399.91,299.47 L400.22,299.51 L400.53,299.55 L400.83,299.58 L401.14,299.62 L401.44,299.66 L401.75,299.69 L402.06,299.73 L402.36,299.77 L402.67,299.80 L402.97,299.84 L403.28,299.87 L403.59,299.91 L403.89,299.94 L404.20,299.98 L404.50,300.01 L404.81,300.05 L405.12,300.08 L405.42,300.11 L405.73,300.15 L406.03,300.18 L406.34,300.21 L406.65,300.25 L406.95,300.28 L407.26,300.31 L407.57,300.34 L407.87,300.37 L408.18,300.40 L408.48,300.43 L408.79,300.46 L409.10,300.49 L409.40,300.52 L409.71,300.55 L410.02,300.58 L410.32,300.60 L410.63,300.63 L410.94,300.66 L411.24,300.69 L411.55,300.71 L411.86,300.74 L412.16,300.77 L412.47,300.79 L412.78,300.82 L413.09,300.84 L413.39,300.87 L413.70,300.89 L414.01,300.92 L414.31,300.94 L414.62,300.97 L414.93,300.99 L415.23,301.02 L415.54,301.04 L415.85,301.06 L416.16,301.09 L416.46,301.11 L416.77,301.13 L417.08,301.16 L417.38,301.18 L417.69,301.20 L418.00,301.22 L418.31,301.24 L418.61,301.27 L418.92,301.29 L419.23,301.31 L419.53,301.33 L419.84,301.35 L420.15,301.37 L420.46,301.39 L420.76,301.41 L421.07,301.43 L421.38,301.45 L421.69,301.47 L421.99,301.49 L422.30,301.51 L422.61,301.53 L422.91,301.55 L423.22,301.57 L423.53,301.59 L423.84,301.61 L424.14,301.63 L424.45,301.65 L424.76,301.67 L425.07,301.69 L425.37,301.71 L425.68,301.73 L425.99,301.75 L426.30,301.76 L426.60,301.78 L426.91,301.80 L427.22,301.82 L427.53,301.84 L427.83,301.85 L428.14,301.87 L428.45,301.89 L428.76,301.91 L429.06,301.92 L429.37,301.94 L429.68,301.96 L429.99,301.97 L430.29,301.99 L430.60,302.01 L430.91,302.02 L431.22,302.04 L431.52,302.05 L431.83,302.07 L432.14,302.08 L432.45,302.10 L432.75,302.11 L433.06,302.13 L433.37,302.14 L433.68,302.16 L433.98,302.17 L434.29,302.19 L434.60,302.20" stroke="#1e90ff" stroke-width="1.95" stroke-dasharray="4.83 4.83" stroke-dashoffset="4.5" stroke-linejoin="round"/>
<path d="M320.1,36.95V312.5" stroke="#a020f0" stroke-width="1.5" stroke-dasharray="4.83 3.22 0.64 3.22" stroke-dashoffset="11.0"/>
<path d="M356.4,36.95V312.5" stroke="#000" stroke-width="1.4" stroke-dasharray="4.83 3.22 0.64 3.22 0.64 3.22" stroke-dashoffset="4.20"/>
</g>
<rect x="67.4" y="36.95" width="367.45000000000005" height="275.55" fill="none" stroke="#000" stroke-width="0.75"/>
<g fill="#111" opacity="0.999"><text transform="translate(56.13,326.80) scale(1.058,1)" font-size="12.9">4500</text><text transform="translate(102.06,326.80) scale(1.058,1)" font-size="12.9">4550</text><text transform="translate(148.00,326.80) scale(1.058,1)" font-size="12.9">4600</text><text transform="translate(193.93,326.80) scale(1.058,1)" font-size="12.9">4650</text><text transform="translate(239.86,326.80) scale(1.058,1)" font-size="12.9">4700</text><text transform="translate(285.79,326.80) scale(1.058,1)" font-size="12.9">4750</text><text transform="translate(331.72,326.80) scale(1.058,1)" font-size="12.9">4800</text><text transform="translate(377.65,326.80) scale(1.058,1)" font-size="12.9">4850</text><text transform="translate(423.58,326.80) scale(1.058,1)" font-size="12.9">4900</text><text transform="translate(54.85,312.40) scale(1.116,1)" font-size="12.9">0</text><text transform="translate(37.35,267.18) scale(1.112,1)" font-size="12.9">0.01</text><text transform="translate(37.36,221.97) scale(1.109,1)" font-size="12.9">0.02</text><text transform="translate(37.36,176.75) scale(1.098,1)" font-size="12.9">0.03</text><text transform="translate(37.37,131.53) scale(1.083,1)" font-size="12.9">0.04</text><text transform="translate(37.36,86.32) scale(1.098,1)" font-size="12.9">0.05</text><text transform="translate(37.36,41.10) scale(1.092,1)" font-size="12.9">0.06</text></g>
<!-- legend samples -->
<g fill="none" stroke-width="0.644">
<path d="M84,60.0H111.7" stroke="#ff0000"/>
<path d="M84,82.5H111.7" stroke="#1e90ff" stroke-dasharray="4.83 4.83"/>
<path d="M84,111.3H111.7" stroke="#a020f0" stroke-dasharray="4.83 3.22 0.64 3.22"/>
<path d="M84,129.7H111.7" stroke="#000" stroke-dasharray="4.83 3.22 0.64 3.22 0.64 3.22"/>
</g>
<g fill="#111" stroke="none" opacity="0.999">
<text transform="translate(221.78,16.80) scale(0.981,1)" font-size="16.18" font-style="italic">D</text>
<text x="233.59" y="14.00" font-size="12.5">*</text>
<path d="M245.7,4.8Q239.6,13.05 245.7,21.3" fill="none" stroke="#111" stroke-width="0.9"/>
<text transform="translate(248.26,16.80) scale(1.312,1)" font-size="16.18" font-style="italic">N</text>
<text transform="translate(264.78,16.80) scale(1.015,1)" font-size="16.18" font-style="italic">D</text>
<path d="M277.9,4.8Q284.0,13.05 277.9,21.3" fill="none" stroke="#111" stroke-width="0.9"/>
<path d="M224.1,346.9l1.5,-0.9l2.7,5.0l5.3,-12.5h6.0" fill="none" stroke="#111" stroke-width="0.65" stroke-linejoin="miter"/>
<text transform="translate(234.56,349.00) scale(0.820,1)" font-size="14.076" font-style="italic">s</text>
<path d="M249.1,339.2H247.0V351.8H249.1M275.8,339.2H277.6V351.8H275.8" fill="none" stroke="#111" stroke-width="0.65"/>
<text transform="translate(249.94,348.90) scale(0.899,1)" font-size="13.8">MeV</text>
<g transform="translate(18.1,216) rotate(-90)">
<path d="M1.2,-10.3V2.8M15.1,-10.3V2.8" fill="none" stroke="#111" stroke-width="0.65"/>
<text transform="translate(2.80,0.00) scale(1.107,1)" font-size="13.8" font-style="italic">T</text>
<text transform="translate(16.15,-6.80) scale(1.162,1)" font-size="8.8">2</text>
<path d="M33.2,-12H31.1V3.4H33.2M78.6,-12H80.6V3.4H78.6" fill="none" stroke="#111" stroke-width="0.65"/>
<text transform="translate(35.63,0.10) scale(0.924,1)" font-size="13.8">MeV</text>
<path d="M63.9,-8.7H69.8" fill="none" stroke="#111" stroke-width="0.65"/>
<text transform="translate(71.63,-5.90) scale(1.219,1)" font-size="8.8">2</text>
</g>
<text transform="translate(120.77,65.90) scale(1.054,1)" font-size="14.2" font-style="italic">J</text>
<text transform="translate(129.86,60.60) scale(1.157,1)" font-size="9.8" font-style="italic">P</text>
<path d="M142.9,60.60H152.5M142.9,63.65H152.5" fill="none" stroke="#111" stroke-width="0.65"/>
<text transform="translate(158.88,60.00) scale(1.323,1)" font-size="8.8">1</text>
<path d="M158.6,61.80H164.9" fill="none" stroke="#111" stroke-width="0.6"/>
<text transform="translate(159.23,70.70) scale(1.219,1)" font-size="8.8">2</text>
<path d="M167.5,55.80H174.7M171.1,52.20V59.40" fill="none" stroke="#111" stroke-width="0.6"/>
<text transform="translate(120.77,88.50) scale(1.054,1)" font-size="14.2" font-style="italic">J</text>
<text transform="translate(129.86,83.20) scale(1.157,1)" font-size="9.8" font-style="italic">P</text>
<path d="M142.9,83.20H152.5M142.9,86.25H152.5" fill="none" stroke="#111" stroke-width="0.65"/>
<text transform="translate(159.20,82.60) scale(1.183,1)" font-size="8.8">3</text>
<path d="M158.6,84.40H164.9" fill="none" stroke="#111" stroke-width="0.6"/>
<text transform="translate(159.23,93.30) scale(1.219,1)" font-size="8.8">2</text>
<path d="M167.5,78.40H174.7M171.1,74.80V82.00" fill="none" stroke="#111" stroke-width="0.6"/>
<text transform="translate(121.73,115.00) scale(0.786,1)" font-size="14.0" font-style="italic">M</text>
<text transform="translate(132.13,117.90) scale(0.737,1)" font-size="10.2" stroke="#111" stroke-width="0.35">Λ</text>
<text transform="translate(137.79,119.20) scale(0.849,1)" font-size="8.2" font-style="italic" stroke="#111" stroke-width="0.25">c</text>
<text transform="translate(140.96,117.70) scale(1.507,1)" font-size="9.6">(2765)</text>
<path d="M184.80,112.00H193.60M189.20,107.60V116.40" fill="none" stroke="#111" stroke-width="0.65"/>
<text transform="translate(199.74,115.00) scale(0.866,1)" font-size="14.0" font-style="italic">M</text>
<text transform="translate(211.44,117.70) scale(1.291,1)" font-size="9.6" font-style="italic">D</text>
<text transform="translate(121.73,132.90) scale(0.786,1)" font-size="14.0" font-style="italic">M</text>
<text transform="translate(132.39,134.40) scale(1.272,1)" font-size="9.6" font-style="italic">N</text>
<path d="M147.70,129.30H156.50M152.10,124.90V133.70" fill="none" stroke="#111" stroke-width="0.65"/>
<text transform="translate(162.44,132.90) scale(0.850,1)" font-size="14.0" font-style="italic">M</text>
<text transform="translate(174.94,134.40) scale(1.276,1)" font-size="9.6" font-style="italic">D</text>
<text x="184.32" y="135.10" font-size="9.8">*</text>
<path d="M195.90,129.30H204.70M200.30,124.90V133.70" fill="none" stroke="#111" stroke-width="0.65"/>
<text transform="translate(210.05,132.90) scale(0.890,1)" font-size="14.0" font-style="italic">M</text>
<text transform="translate(221.94,134.40) scale(1.320,1)" font-size="9.6" font-style="italic">D</text>
</g>
</svg></body></html>
